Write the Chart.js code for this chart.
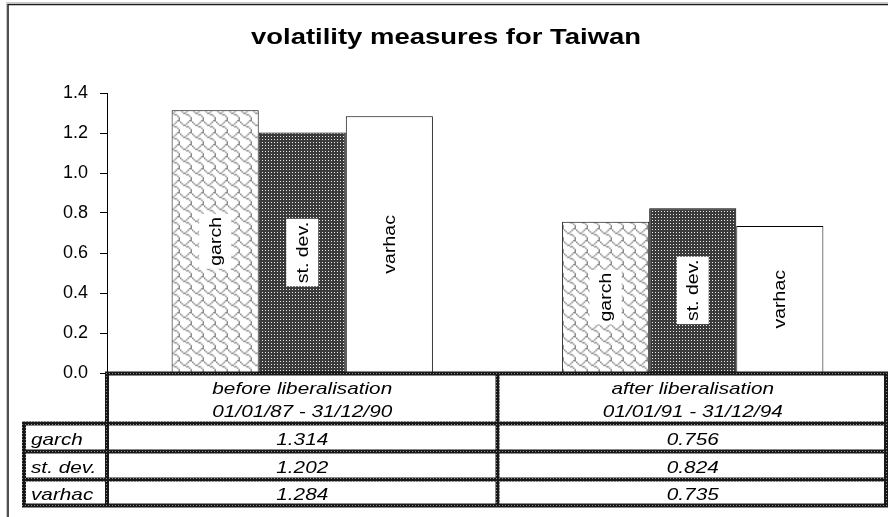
<!DOCTYPE html>
<html>
<head>
<meta charset="utf-8">
<script src="https://cdn.jsdelivr.net/npm/chart.js@4/dist/chart.umd.min.js"></script>
<style>
  html, body { margin: 0; padding: 0; background: #fff; }
  canvas { display: block; }
</style>
</head>
<body>
<canvas id="chart" width="888" height="517"></canvas>
<script>
// ---- data ----
const chartTitle = "volatility measures for Taiwan";
const periods = ["before liberalisation", "after liberalisation"];
const periodRanges = ["01/01/87 - 31/12/90", "01/01/91 - 31/12/94"];
const seriesNames = ["garch", "st. dev.", "varhac"];
const garchValues = [1.314, 0.756];
const stDevValues = [1.202, 0.824];
const varhacValues = [1.284, 0.735];
const yTickValues = [0.0, 0.2, 0.4, 0.6, 0.8, 1.0, 1.2, 1.4];

const FONT = "'Liberation Sans', Arial, sans-serif";
const STRETCH = 1.22;   // horizontally widened lettering

const canvas = document.getElementById('chart');
const ctx = canvas.getContext('2d');

// 8x8 hatch bitmap, scaled up into a repeating tile
function bitmapPattern(rows, fg, bg, size) {
  const src = document.createElement('canvas');
  src.width = 8; src.height = 8;
  const s = src.getContext('2d');
  s.fillStyle = bg; s.fillRect(0, 0, 8, 8);
  s.fillStyle = fg;
  rows.forEach((r, y) => {
    for (let x = 0; x < 8; x++) if (r & (0x80 >> x)) s.fillRect(x, y, 1, 1);
  });
  const tile = document.createElement('canvas');
  tile.width = size; tile.height = size;
  const t = tile.getContext('2d');
  t.imageSmoothingEnabled = true;
  t.drawImage(src, 0, 0, size, size);
  return ctx.createPattern(tile, 'repeat');
}

// small dotted grid tile: dark ground with a light dot
function dotPattern(size, fg, dot) {
  const tile = document.createElement('canvas');
  tile.width = size; tile.height = size;
  const t = tile.getContext('2d');
  t.fillStyle = fg; t.fillRect(0, 0, size, size);
  t.fillStyle = dot; t.fillRect(1, 1, 1, 1);
  return ctx.createPattern(tile, 'repeat');
}

const shingle = bitmapPattern([0x03, 0x84, 0x48, 0x30, 0x0c, 0x02, 0x01, 0x01], '#8a8a8a', '#fff', 12);
const darkDots = dotPattern(3, '#3a3a3a', '#ececec');
const rulePattern = dotPattern(3, '#181818', '#909090');

const fills = [shingle, darkDots, '#ffffff'];
const seriesValues = [garchValues, stDevValues, varhacValues];

function stretchedText(c, text, x, y, align, rotate) {
  c.save();
  c.translate(x, y);
  if (rotate) c.rotate(-Math.PI / 2);
  c.scale(STRETCH, 1);
  c.textAlign = align;
  c.fillText(text, 0, 0);
  c.restore();
}

// frame and title
const framePlugin = {
  id: 'frame',
  beforeDraw(chart) {
    const c = chart.ctx;
    c.save();
    c.fillStyle = '#fff';
    c.fillRect(0, 0, chart.width, chart.height);
    c.strokeStyle = '#c8c8c8';
    c.lineWidth = 1;
    c.beginPath();
    c.moveTo(6.5, chart.height); c.lineTo(6.5, 2.5); c.lineTo(chart.width, 2.5);
    c.stroke();
    c.strokeStyle = '#1a1a1a';
    c.lineWidth = 1.5;
    c.beginPath();
    c.moveTo(8, chart.height); c.lineTo(8, 4.5); c.lineTo(chart.width, 4.5);
    c.stroke();
    c.fillStyle = '#000';
    c.font = "bold 22.5px " + FONT;
    c.textBaseline = 'alphabetic';
    stretchedText(c, chartTitle, 446, 44, 'center', false);
    c.restore();
  }
};

// rotated series names inside each bar
const barLabelPlugin = {
  id: 'barLabels',
  afterDatasetsDraw(chart) {
    const c = chart.ctx;
    c.save();
    c.font = "16px " + FONT;
    c.textBaseline = 'middle';
    chart.data.datasets.forEach((ds, di) => {
      const meta = chart.getDatasetMeta(di);
      meta.data.forEach(bar => {
        const cx = bar.x;
        const cy = (bar.y + bar.base) / 2;
        const w = c.measureText(ds.label).width * STRETCH;
        c.fillStyle = '#fff';
        c.fillRect(cx - 16, cy - w / 2 - 3, 32, w + 6);
        c.fillStyle = '#000';
        stretchedText(c, ds.label, cx + 1, cy, 'center', true);
      });
    });
    c.restore();
  }
};

// data table under the plot
const tablePlugin = {
  id: 'dataTable',
  afterDraw(chart) {
    const c = chart.ctx;
    const area = chart.chartArea;
    const xs = chart.scales.x;
    const left = area.left, right = area.right - 2;
    const labelLeft = 24;
    const rows = [area.bottom + 0.5, 423.5, 451.5, 479.5, 505.5];
    const bounds = [left];
    for (let i = 0; i < periods.length - 1; i++) {
      bounds.push((xs.getPixelForValue(i) + xs.getPixelForValue(i + 1)) / 2);
    }
    bounds.push(right);

    c.save();
    c.strokeStyle = rulePattern;
    c.lineWidth = 4;
    c.lineCap = 'square';
    c.beginPath();
    c.moveTo(left, rows[0]); c.lineTo(right, rows[0]);
    for (let r = 1; r < rows.length; r++) {
      c.moveTo(labelLeft, rows[r]); c.lineTo(right, rows[r]);
    }
    c.moveTo(labelLeft, rows[1]); c.lineTo(labelLeft, rows[rows.length - 1]);
    bounds.forEach(bx => {
      c.moveTo(bx, rows[0]); c.lineTo(bx, rows[rows.length - 1]);
    });
    c.stroke();

    c.fillStyle = '#000';
    c.font = "italic 17px " + FONT;
    c.textBaseline = 'alphabetic';
    periods.forEach((p, i) => {
      const px = xs.getPixelForValue(i);
      stretchedText(c, p, px, 394, 'center', false);
      stretchedText(c, periodRanges[i], px, 417, 'center', false);
    });
    const baselines = [445, 473, 500];
    seriesNames.forEach((name, si) => {
      stretchedText(c, name, 31, baselines[si], 'left', false);
      seriesValues[si].forEach((v, i) => {
        stretchedText(c, v.toFixed(3), xs.getPixelForValue(i), baselines[si], 'center', false);
      });
    });
    c.restore();
  }
};

new Chart(ctx, {
  type: 'bar',
  data: {
    labels: periods,
    datasets: seriesNames.map((name, i) => ({
      label: name,
      data: seriesValues[i],
      backgroundColor: fills[i],
      borderColor: '#000',
      borderWidth: 1,
      borderSkipped: 'start',
      categoryPercentage: 0.669,
      barPercentage: 1.0
    }))
  },
  options: {
    responsive: false,
    animation: false,
    devicePixelRatio: 1,
    layout: { padding: { left: 0, right: 0, top: 93, bottom: 144 } },
    plugins: {
      legend: { display: false },
      title: { display: false },
      tooltip: { enabled: false }
    },
    scales: {
      x: { display: false, offset: true },
      y: {
        min: 0,
        max: 1.4,
        afterBuildTicks(scale) {
          scale.ticks = yTickValues.map(v => ({ value: v }));
        },
        afterFit(scale) { scale.width = 107; },
        border: { display: true, color: '#000', width: 1 },
        grid: { drawOnChartArea: false, drawTicks: true, tickLength: 7, color: '#000' },
        ticks: {
          padding: 12,
          color: '#000',
          font: { family: FONT, size: 18 },
          callback: v => Number(v).toFixed(1)
        }
      }
    }
  },
  plugins: [framePlugin, barLabelPlugin, tablePlugin]
});
</script>
</body>
</html>
